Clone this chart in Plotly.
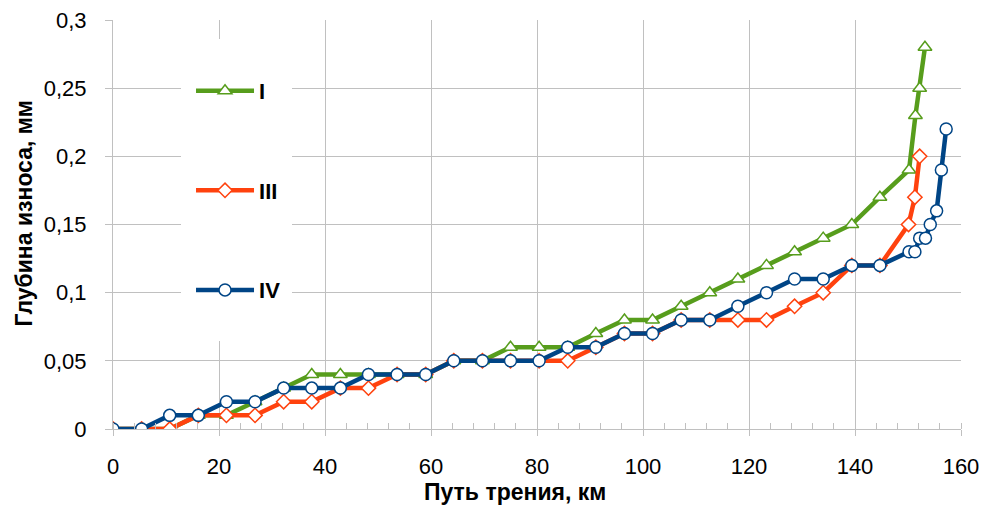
import plotly.graph_objects as go

# ---- data ----
x_common = [0, 5.4, 10.7, 16.1, 21.4, 26.8, 32.2, 37.5, 42.9, 48.2, 53.6, 59.0, 64.3, 69.7,
            75.0, 80.4, 85.8, 91.1, 96.5, 101.8, 107.2, 112.6, 117.9, 123.3, 128.6, 134.0,
            139.4, 144.7]

x_I = x_common + [150.2, 151.4, 152.2, 153.2]
y_I = [0, 0, 0, 0.01, 0.01, 0.02, 0.03, 0.04, 0.04, 0.04, 0.04, 0.04, 0.05, 0.05,
       0.06, 0.06, 0.06, 0.07, 0.08, 0.08, 0.09, 0.10, 0.11, 0.12, 0.13, 0.14,
       0.15, 0.17, 0.19, 0.23, 0.25, 0.28]

x_III = x_common + [150.1, 151.3, 152.2]
y_III = [0, 0, 0, 0.01, 0.01, 0.01, 0.02, 0.02, 0.03, 0.03, 0.04, 0.04, 0.05, 0.05,
         0.05, 0.05, 0.05, 0.06, 0.07, 0.07, 0.08, 0.08, 0.08, 0.08, 0.09, 0.10,
         0.12, 0.12, 0.15, 0.17, 0.20]

x_IV = x_common + [150.2, 151.3, 152.2, 153.3, 154.2, 155.4, 156.3, 157.2]
y_IV = [0, 0, 0.01, 0.01, 0.02, 0.02, 0.03, 0.03, 0.03, 0.04, 0.04, 0.04, 0.05, 0.05,
        0.05, 0.05, 0.06, 0.06, 0.07, 0.07, 0.08, 0.08, 0.09, 0.10, 0.11, 0.11,
        0.12, 0.12, 0.13, 0.13, 0.14, 0.14, 0.15, 0.16, 0.19, 0.22]

x_ticks = [0, 20, 40, 60, 80, 100, 120, 140, 160]
y_ticks = [0, 0.05, 0.1, 0.15, 0.2, 0.25, 0.3]
y_ticktext = ["0", "0,05", "0,1", "0,15", "0,2", "0,25", "0,3"]

series_names = ["I", "III", "IV"]
x_title = "Путь трения, км"
y_title = "Глубина износа, мм"

# ---- style ----
FONT = "Liberation Sans, Arial, sans-serif"
GREEN = "#579d1c"
RED = "#ff420e"
BLUE = "#004586"
GRID = "#c0c0c0"

fig = go.Figure()
specs = [
    (x_I, y_I, GREEN, "triangle-up", 12),
    (x_III, y_III, RED, "diamond", 11),
    (x_IV, y_IV, BLUE, "circle", 12),
]
for name, (xs, ys, col, sym, sz) in zip(series_names, specs):
    fig.add_trace(go.Scatter(
        x=xs, y=ys, name=name, mode="lines+markers", legendgroup=name,
        line=dict(color=col, width=4.5),
        marker=dict(symbol=sym, size=sz, color="white", line=dict(color=col, width=1.5)),
    ))

fig.update_layout(
    width=982, height=506,
    margin=dict(l=113, r=21, t=20, b=77, autoexpand=False),
    paper_bgcolor="white", plot_bgcolor="white",
    font=dict(family=FONT, size=22, color="black"),
    showlegend=True,
    legend=dict(
        x=0.092, y=0.878, xanchor="left", yanchor="top",
        bgcolor="rgba(0,0,0,0)", borderwidth=0,
        font=dict(family=FONT, size=22, color="black", weight="bold"),
        traceorder="grouped", tracegroupgap=68, itemwidth=58,
    ),
    xaxis=dict(
        range=[0, 160], tickvals=x_ticks, ticktext=[str(v) for v in x_ticks],
        showgrid=True, gridcolor=GRID, gridwidth=1,
        showline=True, linecolor=GRID, linewidth=1,
        ticks="outside", ticklen=6, tickcolor=GRID, ticklabelstandoff=12,
        minor=dict(dtick=4, ticks="inside", ticklen=6, tickcolor=GRID, showgrid=False),
        zeroline=False, tickfont=dict(size=22), automargin=False,
    ),
    yaxis=dict(
        range=[0, 0.3], tickvals=y_ticks, ticktext=y_ticktext,
        showgrid=True, gridcolor=GRID, gridwidth=1,
        showline=True, linecolor=GRID, linewidth=1,
        ticks="outside", ticklen=7, tickcolor=GRID, ticklabelstandoff=14,
        zeroline=False, tickfont=dict(size=22), automargin=False,
    ),
    shapes=[
        dict(type="rect", xref="paper", yref="paper",
             x0=(181 - 113) / 848, x1=(292 - 113) / 848,
             y0=(429 - 341) / 409, y1=(429 - 39) / 409,
             fillcolor="white", line=dict(width=0), layer="above"),
    ],
    annotations=[
        dict(text="<b>" + x_title + "</b>", xref="paper", yref="paper",
             x=(515 - 113) / 848, y=(429 - 492) / 409, xanchor="center", yanchor="middle",
             borderpad=0,
             showarrow=False, font=dict(family=FONT, size=23, color="black")),
        dict(text="<b>" + y_title + "</b>", xref="paper", yref="paper",
             x=(23.5 - 113) / 848, y=(429 - 214) / 409, xanchor="center", yanchor="middle",
             textangle=-90, showarrow=False, font=dict(family=FONT, size=23, color="black")),
    ],
)

fig.write_html("out.html", config={"displayModeBar": False},
               post_script="document.body.style.margin='0';")
